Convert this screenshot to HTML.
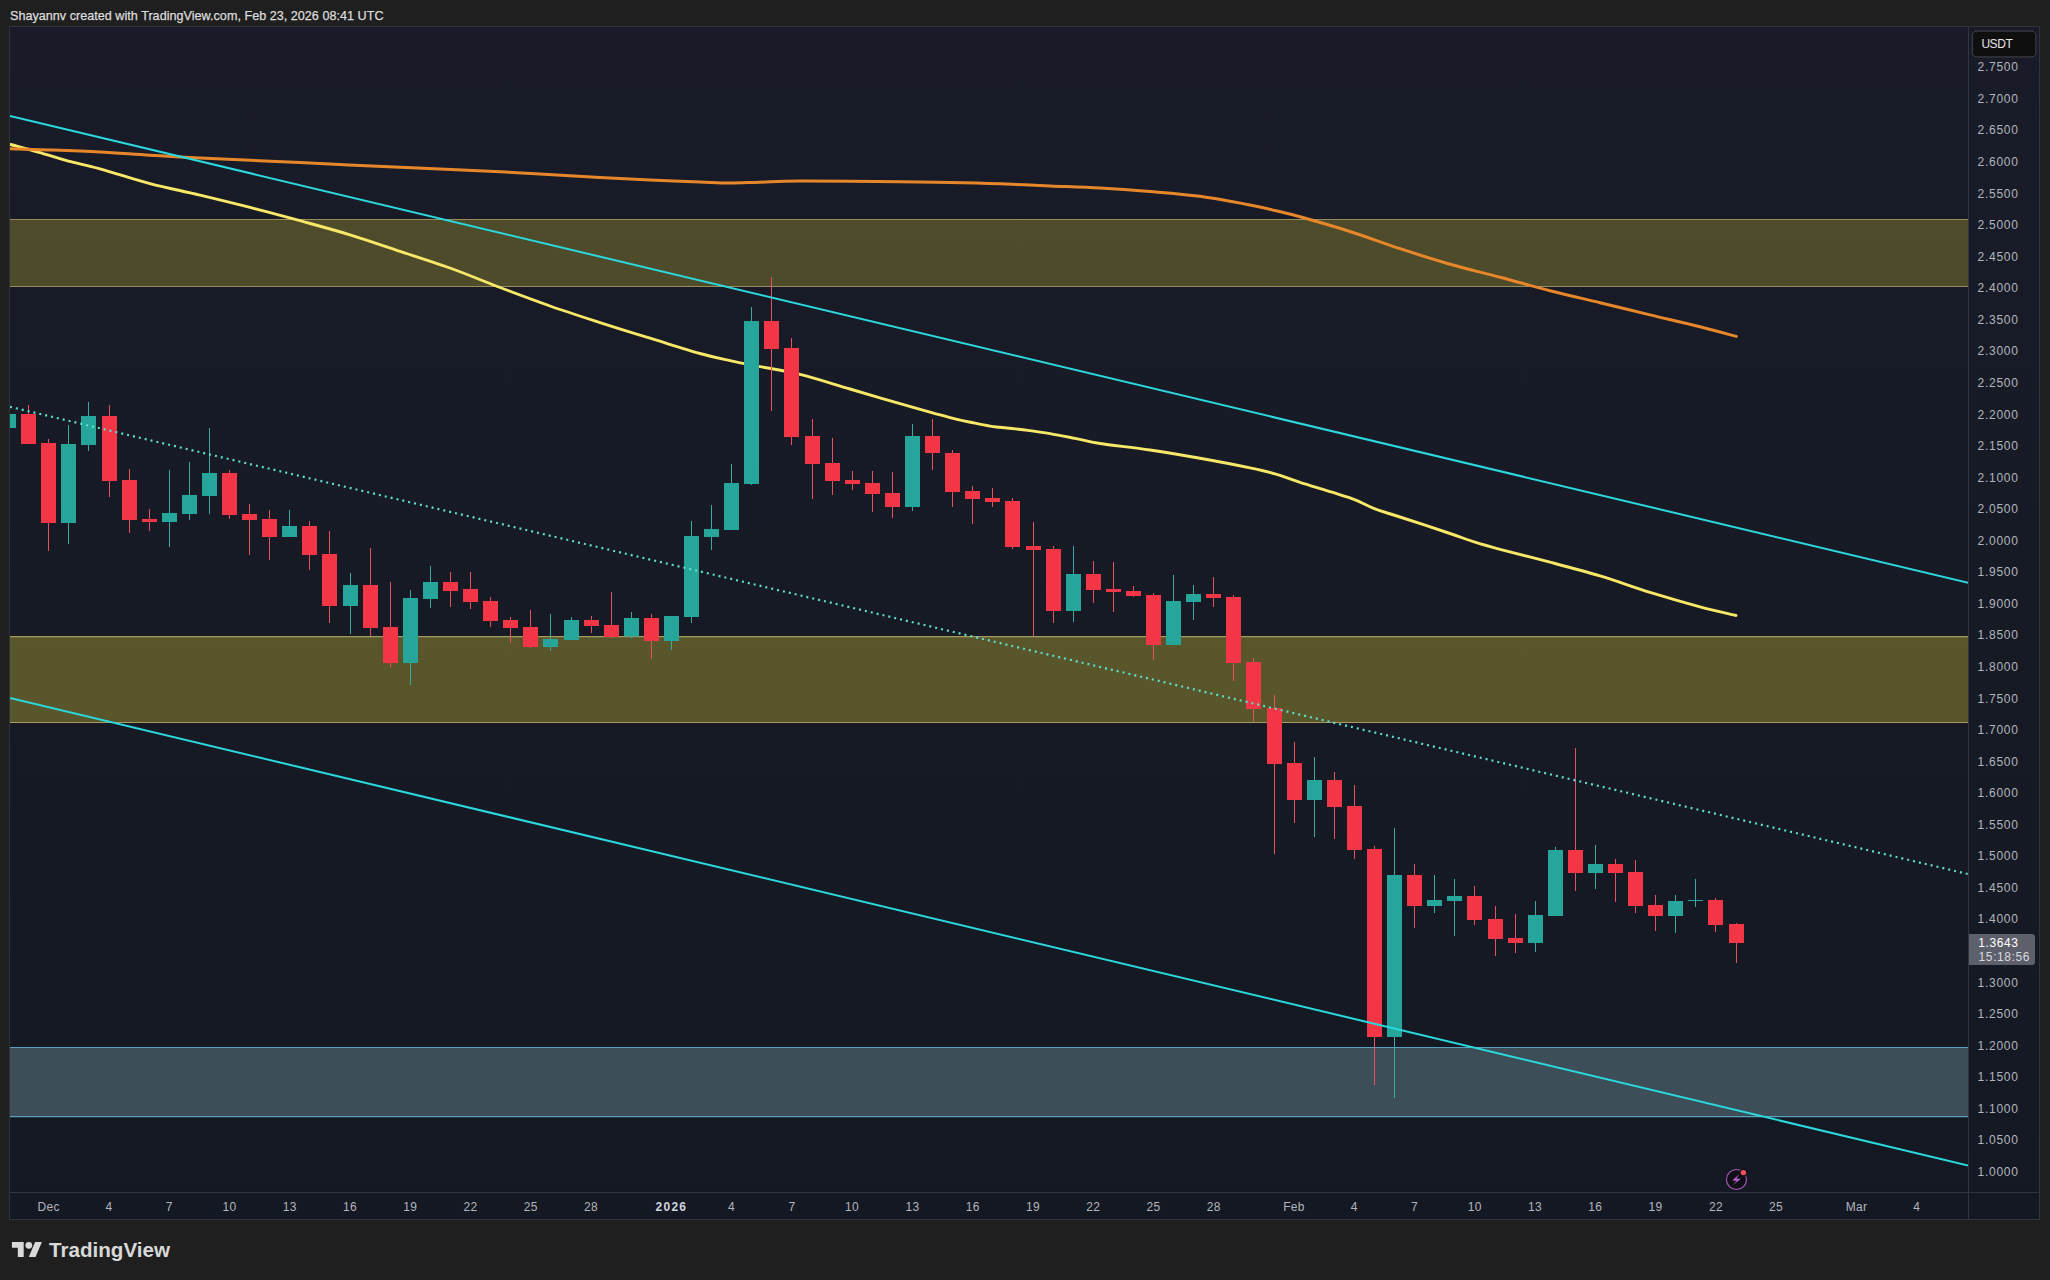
<!DOCTYPE html>
<html lang="en"><head><meta charset="utf-8"><title>TradingView chart snapshot</title>
<style>
html,body{margin:0;padding:0;background:#1f1f1f;}
body{width:2050px;height:1280px;overflow:hidden;position:relative;font-family:"Liberation Sans",Arial,sans-serif;}
svg{position:absolute;left:0;top:0;display:block;}
svg text{font-family:"Liberation Sans",Arial,sans-serif;}
.ax{font-size:12px;fill:#b2b5be;letter-spacing:0.72px;}
.tm{font-size:12px;fill:#b2b5be;text-anchor:middle;letter-spacing:0.3px;}
.tmb{font-size:12px;fill:#d1d4dc;text-anchor:middle;font-weight:bold;letter-spacing:1.3px;}
</style></head><body>
<svg width="2050" height="1280" viewBox="0 0 2050 1280">
<defs>
<linearGradient id="bg" x1="0" y1="0" x2="0" y2="1"><stop offset="0" stop-color="#191c28"/><stop offset="1" stop-color="#141822"/></linearGradient>
<clipPath id="pane"><rect x="10" y="27" width="1958" height="1165"/></clipPath>
</defs>
<rect x="0" y="0" width="2050" height="1280" fill="#1f1f1f"/>
<rect x="9.5" y="26.5" width="2030" height="1193" fill="url(#bg)" stroke="#2f343d" stroke-width="1"/>
<text x="10" y="20" font-size="12.6" fill="#dcdcdc" textLength="373.5" stroke="#dcdcdc" stroke-width="0.25" lengthAdjust="spacing">Shayannv created with TradingView.com, Feb 23, 2026 08:41 UTC</text>
<g clip-path="url(#pane)">
<rect x="9" y="219.5" width="1959.2" height="67" fill="rgba(255,235,59,0.235)"/>
<path d="M9 219.5H1968.2M9 286.5H1968.2" stroke="#988c5c" stroke-width="1.1" fill="none"/>
<rect x="9" y="636.6" width="1959.2" height="85.9" fill="rgba(255,235,59,0.29)"/>
<path d="M9 636.6H1968.2M9 722.5H1968.2" stroke="#a59b5f" stroke-width="1.1" fill="none"/>
<rect x="9" y="1047.5" width="1959.2" height="69.1" fill="#3e4e58"/>
<path d="M9 1047.5H1968.2M9 1116.6H1968.2" stroke="#58a3bb" stroke-width="1.2" fill="none"/>
<path d="M10.5 144.5C15.2 145.8 29.4 149.5 39.0 152.3C48.6 155.1 58.2 158.4 68.4 161.1C78.6 163.8 86.4 165.0 100.0 168.8C113.6 172.5 133.3 179.2 150.0 183.6C166.7 188.0 183.3 191.1 200.0 195.1C216.7 199.1 233.3 203.1 250.0 207.4C266.7 211.7 283.3 216.1 300.0 220.7C316.7 225.3 333.3 229.7 350.0 234.8C366.7 239.9 383.3 245.8 400.0 251.3C416.7 256.8 433.3 262.0 450.0 268.0C466.7 274.0 483.3 281.2 500.0 287.5C516.7 293.8 533.3 300.1 550.0 306.0C566.7 311.9 583.3 317.2 600.0 322.6C616.7 328.0 633.3 333.1 650.0 338.2C666.7 343.3 686.7 349.8 700.0 353.5C713.3 357.2 720.0 358.5 730.0 360.7C740.0 362.9 748.3 364.3 760.0 366.6C771.7 368.9 785.0 370.7 800.0 374.4C815.0 378.1 833.3 384.1 850.0 389.0C866.7 393.9 883.3 398.9 900.0 403.7C916.7 408.5 937.5 414.4 950.0 417.6C962.5 420.9 968.3 421.8 975.0 423.2C981.7 424.6 985.8 425.4 990.0 426.1C994.2 426.8 994.2 426.7 1000.0 427.3C1005.8 427.9 1016.7 428.9 1025.0 430.0C1033.3 431.1 1041.7 432.2 1050.0 433.6C1058.3 435.0 1066.7 436.7 1075.0 438.3C1083.3 439.9 1087.5 441.6 1100.0 443.5C1112.5 445.4 1133.3 447.5 1150.0 450.0C1166.7 452.5 1183.3 455.3 1200.0 458.3C1216.7 461.3 1237.5 465.3 1250.0 467.9C1262.5 470.5 1266.7 471.5 1275.0 473.9C1283.3 476.3 1287.5 478.3 1300.0 482.3C1312.5 486.3 1337.5 493.5 1350.0 497.9C1362.5 502.3 1366.7 505.7 1375.0 508.9C1383.3 512.1 1387.5 512.9 1400.0 517.0C1412.5 521.1 1437.5 529.3 1450.0 533.5C1462.5 537.7 1466.7 539.6 1475.0 542.2C1483.3 544.8 1487.5 546.0 1500.0 549.3C1512.5 552.6 1533.3 557.8 1550.0 562.2C1566.7 566.6 1583.3 570.9 1600.0 575.9C1616.7 580.9 1633.3 587.1 1650.0 592.3C1666.7 597.4 1685.7 602.9 1700.0 606.8C1714.3 610.7 1730.0 614.0 1736.0 615.5" fill="none" stroke="#f8e868" stroke-width="2.9" stroke-linecap="round" stroke-linejoin="round"/>
<path d="M10.5 148.8C17.1 149.0 35.1 149.5 50.0 150.0C64.9 150.5 83.3 151.1 100.0 152.0C116.7 152.9 133.3 154.2 150.0 155.2C166.7 156.2 175.0 156.8 200.0 158.0C225.0 159.2 266.7 160.9 300.0 162.5C333.3 164.1 366.7 165.8 400.0 167.3C433.3 168.9 466.7 170.1 500.0 171.8C533.3 173.5 575.0 176.1 600.0 177.5C625.0 178.9 633.3 179.2 650.0 180.0C666.7 180.8 686.7 181.5 700.0 182.0C713.3 182.5 720.0 183.0 730.0 183.0C740.0 183.0 748.3 182.5 760.0 182.2C771.7 181.9 776.7 181.1 800.0 181.0C823.3 180.9 875.0 181.5 900.0 181.7C925.0 181.9 933.3 182.1 950.0 182.4C966.7 182.7 983.3 183.1 1000.0 183.7C1016.7 184.3 1033.3 185.2 1050.0 185.9C1066.7 186.6 1083.3 187.1 1100.0 188.0C1116.7 188.9 1133.3 190.1 1150.0 191.5C1166.7 192.9 1183.3 194.1 1200.0 196.3C1216.7 198.6 1237.5 202.6 1250.0 205.0C1262.5 207.4 1266.7 208.5 1275.0 210.5C1283.3 212.5 1287.5 213.3 1300.0 216.8C1312.5 220.3 1333.3 226.2 1350.0 231.5C1366.7 236.8 1383.3 243.2 1400.0 248.7C1416.7 254.1 1433.3 259.4 1450.0 264.2C1466.7 268.9 1483.3 272.8 1500.0 277.2C1516.7 281.6 1533.3 286.4 1550.0 290.7C1566.7 294.9 1583.3 298.7 1600.0 302.7C1616.7 306.7 1633.3 310.9 1650.0 314.9C1666.7 318.9 1685.6 323.2 1700.0 326.8C1714.4 330.4 1730.2 334.8 1736.3 336.4" fill="none" stroke="#e8872a" stroke-width="3" stroke-linecap="round" stroke-linejoin="round"/>
<path d="M8.5 414.0V428.0M68.5 425.0V544.0M88.5 402.0V451.0M169.5 470.0V547.0M189.5 462.0V520.0M209.5 428.0V514.0M289.5 510.0V537.0M350.5 573.0V634.0M410.5 590.0V685.0M430.5 566.0V608.0M550.5 614.0V651.0M571.5 617.0V640.0M631.5 612.0V638.4M671.5 616.0V650.0M691.5 521.0V623.0M711.5 505.0V550.0M731.5 464.0V530.0M751.5 307.0V485.0M912.5 424.0V511.0M1073.5 546.0V622.0M1173.5 575.0V645.0M1193.5 585.0V620.0M1314.5 757.0V837.0M1394.5 828.0V1098.0M1434.5 875.0V913.0M1454.5 879.0V936.0M1535.5 901.0V952.0M1555.5 847.0V916.0M1595.5 845.0V889.0M1675.5 895.0V933.0M1695.5 879.0V907.0" stroke="#3aa99e" stroke-width="1" fill="none"/>
<path d="M28.5 405.0V444.0M48.5 439.0V551.0M109.5 405.0V497.0M129.5 469.0V533.0M149.5 509.0V531.0M229.5 470.0V519.0M249.5 504.0V555.0M269.5 510.0V560.0M309.5 521.0V570.0M329.5 531.0V623.0M370.5 548.0V636.0M390.5 582.0V667.5M450.5 572.0V607.0M470.5 572.0V609.0M490.5 597.0V627.0M510.5 617.0V643.0M530.5 610.0V648.0M591.5 616.0V633.0M611.5 592.0V638.0M651.5 614.0V659.0M771.5 277.0V411.0M791.5 338.0V445.0M812.5 419.0V499.0M832.5 438.0V495.0M852.5 471.0V490.0M872.5 471.0V512.0M892.5 472.0V518.0M932.5 419.0V470.0M952.5 450.0V507.0M972.5 486.0V524.0M992.5 488.0V507.0M1012.5 498.0V549.0M1033.5 522.0V636.0M1053.5 546.0V623.0M1093.5 561.0V603.0M1113.5 562.0V612.0M1133.5 586.0V597.0M1153.5 593.0V660.0M1213.5 577.0V607.0M1233.5 595.0V681.0M1253.5 658.0V722.0M1274.5 695.0V854.0M1294.5 742.0V823.0M1334.5 772.0V839.0M1354.5 785.0V859.0M1374.5 846.0V1085.0M1414.5 864.0V928.0M1474.5 886.0V925.0M1495.5 906.0V956.0M1515.5 914.0V953.0M1575.5 748.0V891.0M1615.5 859.0V902.0M1635.5 860.0V913.0M1655.5 895.0V931.0M1715.5 898.0V932.0M1736.5 923.0V963.0" stroke="#e8505b" stroke-width="1" fill="none"/>
<path d="M1.0 414.0h15V428.0h-15zM61.0 444.0h15V523.0h-15zM81.0 416.0h15V445.0h-15zM162.0 513.0h15V522.0h-15zM182.0 495.0h15V514.0h-15zM202.0 473.0h15V496.0h-15zM282.0 526.0h15V537.0h-15zM343.0 585.0h15V606.0h-15zM403.0 598.0h15V663.0h-15zM423.0 582.0h15V599.0h-15zM543.0 639.0h15V647.0h-15zM564.0 620.0h15V640.0h-15zM624.0 618.0h15V636.4h-15zM664.0 616.0h15V641.0h-15zM684.0 536.0h15V617.0h-15zM704.0 529.0h15V537.0h-15zM724.0 483.0h15V530.0h-15zM744.0 321.0h15V484.0h-15zM905.0 436.0h15V507.0h-15zM1066.0 574.0h15V611.0h-15zM1166.0 601.0h15V645.0h-15zM1186.0 594.0h15V602.0h-15zM1307.0 780.0h15V800.0h-15zM1387.0 875.0h15V1037.0h-15zM1427.0 900.0h15V906.0h-15zM1447.0 896.0h15V901.0h-15zM1528.0 915.0h15V943.0h-15zM1548.0 850.0h15V916.0h-15zM1588.0 864.0h15V873.0h-15zM1668.0 901.0h15V916.0h-15zM1688.0 900.0h15V901.0h-15z" fill="#26a69a"/>
<path d="M21.0 414.0h15V444.0h-15zM41.0 443.0h15V523.0h-15zM102.0 416.0h15V481.0h-15zM122.0 480.0h15V520.0h-15zM142.0 519.0h15V522.0h-15zM222.0 473.0h15V515.0h-15zM242.0 514.0h15V520.0h-15zM262.0 519.0h15V537.0h-15zM302.0 526.0h15V555.0h-15zM322.0 554.0h15V606.0h-15zM363.0 585.0h15V628.0h-15zM383.0 627.0h15V663.0h-15zM443.0 582.0h15V591.0h-15zM463.0 589.0h15V602.0h-15zM483.0 601.0h15V621.0h-15zM503.0 620.0h15V628.0h-15zM523.0 627.0h15V647.0h-15zM584.0 620.0h15V626.0h-15zM604.0 625.0h15V637.0h-15zM644.0 618.0h15V641.0h-15zM764.0 321.0h15V349.0h-15zM784.0 348.0h15V437.0h-15zM805.0 436.0h15V464.0h-15zM825.0 463.0h15V481.0h-15zM845.0 480.0h15V484.0h-15zM865.0 483.0h15V494.0h-15zM885.0 493.0h15V507.0h-15zM925.0 436.0h15V453.0h-15zM945.0 453.0h15V492.0h-15zM965.0 491.0h15V499.0h-15zM985.0 498.0h15V502.0h-15zM1005.0 501.0h15V547.0h-15zM1026.0 546.0h15V550.0h-15zM1046.0 549.0h15V611.0h-15zM1086.0 574.0h15V590.0h-15zM1106.0 589.0h15V592.0h-15zM1126.0 591.0h15V596.0h-15zM1146.0 595.0h15V645.0h-15zM1206.0 594.0h15V598.0h-15zM1226.0 597.0h15V663.0h-15zM1246.0 662.0h15V709.0h-15zM1267.0 708.0h15V764.0h-15zM1287.0 763.0h15V800.0h-15zM1327.0 780.0h15V807.0h-15zM1347.0 806.0h15V850.0h-15zM1367.0 849.0h15V1037.0h-15zM1407.0 875.0h15V906.0h-15zM1467.0 896.0h15V920.0h-15zM1488.0 919.0h15V939.0h-15zM1508.0 938.0h15V943.0h-15zM1568.0 850.0h15V873.0h-15zM1608.0 864.0h15V873.0h-15zM1628.0 872.0h15V906.0h-15zM1648.0 905.0h15V916.0h-15zM1708.0 900.0h15V925.0h-15zM1729.0 924.0h15V943.0h-15z" fill="#f23645"/>
<path d="M10 116L1969 583" stroke="#2ad9de" stroke-width="2" fill="none"/>
<path d="M10 698L1969 1165.7" stroke="#2ad9de" stroke-width="2" fill="none"/>
<path d="M10 406.8L1969 874.3" stroke="#5fe0cc" stroke-width="2.2" stroke-dasharray="2 4.02" fill="none"/>
<circle cx="1736.5" cy="1179.5" r="10" fill="#100e17" stroke="#aa5cba" stroke-width="1.1"/>
<path d="M1739.2 1174.2L1732.3 1180.6L1736.7 1180.8L1733.1 1185L1740.8 1178.8L1736.4 1178.8Z" fill="#c063d1"/>
<circle cx="1743.4" cy="1172.6" r="3.8" fill="#16101a"/>
<circle cx="1743.4" cy="1172.6" r="2.7" fill="#f0505c"/>
</g>
<path d="M1968.5 27V1219M10 1192.5H2039" stroke="#2f343d" stroke-width="1" fill="none"/>
<text class="ax" x="1977.6" y="71.3">2.7500</text>
<text class="ax" x="1977.6" y="102.9">2.7000</text>
<text class="ax" x="1977.6" y="134.4">2.6500</text>
<text class="ax" x="1977.6" y="166.0">2.6000</text>
<text class="ax" x="1977.6" y="197.5">2.5500</text>
<text class="ax" x="1977.6" y="229.1">2.5000</text>
<text class="ax" x="1977.6" y="260.7">2.4500</text>
<text class="ax" x="1977.6" y="292.2">2.4000</text>
<text class="ax" x="1977.6" y="323.8">2.3500</text>
<text class="ax" x="1977.6" y="355.3">2.3000</text>
<text class="ax" x="1977.6" y="386.9">2.2500</text>
<text class="ax" x="1977.6" y="418.5">2.2000</text>
<text class="ax" x="1977.6" y="450.0">2.1500</text>
<text class="ax" x="1977.6" y="481.6">2.1000</text>
<text class="ax" x="1977.6" y="513.1">2.0500</text>
<text class="ax" x="1977.6" y="544.7">2.0000</text>
<text class="ax" x="1977.6" y="576.3">1.9500</text>
<text class="ax" x="1977.6" y="607.8">1.9000</text>
<text class="ax" x="1977.6" y="639.4">1.8500</text>
<text class="ax" x="1977.6" y="670.9">1.8000</text>
<text class="ax" x="1977.6" y="702.5">1.7500</text>
<text class="ax" x="1977.6" y="734.1">1.7000</text>
<text class="ax" x="1977.6" y="765.6">1.6500</text>
<text class="ax" x="1977.6" y="797.2">1.6000</text>
<text class="ax" x="1977.6" y="828.7">1.5500</text>
<text class="ax" x="1977.6" y="860.3">1.5000</text>
<text class="ax" x="1977.6" y="891.9">1.4500</text>
<text class="ax" x="1977.6" y="923.4">1.4000</text>
<text class="ax" x="1977.6" y="955.0">1.3500</text>
<text class="ax" x="1977.6" y="986.5">1.3000</text>
<text class="ax" x="1977.6" y="1018.1">1.2500</text>
<text class="ax" x="1977.6" y="1049.7">1.2000</text>
<text class="ax" x="1977.6" y="1081.2">1.1500</text>
<text class="ax" x="1977.6" y="1112.8">1.1000</text>
<text class="ax" x="1977.6" y="1144.3">1.0500</text>
<text class="ax" x="1977.6" y="1175.9">1.0000</text>
<rect x="1972.3" y="31.1" width="63.6" height="25.8" rx="4.5" ry="4.5" fill="#0f0f0f" stroke="#42464f" stroke-width="1"/>
<text x="1981.4" y="48" font-size="12" fill="#e6e6e6" letter-spacing="-0.45">USDT</text>
<path d="M1969 934H2032a3 3 0 0 1 3 3V962a3 3 0 0 1 -3 3H1969z" fill="#5d606b"/>
<text x="1978.3" y="946.8" font-size="12" fill="#ffffff" letter-spacing="0.6">1.3643</text>
<text x="1978.6" y="960.7" font-size="12" fill="#d9dae0" letter-spacing="0.6">15:18:56</text>
<text class="tm" x="48.7" y="1211">Dec</text>
<text class="tm" x="108.9" y="1211">4</text>
<text class="tm" x="169.2" y="1211">7</text>
<text class="tm" x="229.5" y="1211">10</text>
<text class="tm" x="289.7" y="1211">13</text>
<text class="tm" x="350.0" y="1211">16</text>
<text class="tm" x="410.2" y="1211">19</text>
<text class="tm" x="470.5" y="1211">22</text>
<text class="tm" x="530.8" y="1211">25</text>
<text class="tm" x="591.0" y="1211">28</text>
<text class="tmb" x="671.4" y="1211">2026</text>
<text class="tm" x="731.6" y="1211">4</text>
<text class="tm" x="791.9" y="1211">7</text>
<text class="tm" x="852.1" y="1211">10</text>
<text class="tm" x="912.4" y="1211">13</text>
<text class="tm" x="972.7" y="1211">16</text>
<text class="tm" x="1032.9" y="1211">19</text>
<text class="tm" x="1093.2" y="1211">22</text>
<text class="tm" x="1153.4" y="1211">25</text>
<text class="tm" x="1213.7" y="1211">28</text>
<text class="tm" x="1294.0" y="1211">Feb</text>
<text class="tm" x="1354.3" y="1211">4</text>
<text class="tm" x="1414.6" y="1211">7</text>
<text class="tm" x="1474.8" y="1211">10</text>
<text class="tm" x="1535.1" y="1211">13</text>
<text class="tm" x="1595.3" y="1211">16</text>
<text class="tm" x="1655.6" y="1211">19</text>
<text class="tm" x="1715.9" y="1211">22</text>
<text class="tm" x="1776.1" y="1211">25</text>
<text class="tm" x="1856.5" y="1211">Mar</text>
<text class="tm" x="1916.7" y="1211">4</text>
<g fill="#d9d9d9">
<path d="M23.7 1257H17.8V1247.8H11.9V1241.9H23.7Z"/>
<circle cx="28.8" cy="1245.3" r="3.4"/>
<path d="M35.5 1257H28.8L35.1 1241.9H41.9Z"/>
</g>
<text x="49" y="1256.7" font-size="19.8" font-weight="bold" fill="#d9d9d9" textLength="121" lengthAdjust="spacingAndGlyphs">TradingView</text>
</svg>
</body></html>
